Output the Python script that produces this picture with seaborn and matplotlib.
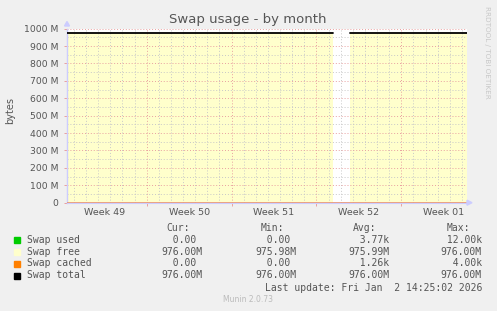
import numpy as np
import pandas as pd
import matplotlib
matplotlib.use("Agg")
import matplotlib.pyplot as plt
import seaborn as sns

# ---------------- data ----------------
# time in days since graph start (33-day "month" window)
days = [0.0, 21.95, 23.35, 33.0]
segment = ["a", "a", "b", "b"]
swap_used = [0.0, 0.0, 0.0, 0.0]
swap_free = [976.0e6, 976.0e6, 976.0e6, 976.0e6]
swap_cached = [0.0, 0.0, 0.0, 0.0]
swap_total = [976.0e6, 976.0e6, 976.0e6, 976.0e6]

week_labels = ["Week 49", "Week 50", "Week 51", "Week 52", "Week 01"]
y_ticks = [0, 100e6, 200e6, 300e6, 400e6, 500e6, 600e6, 700e6, 800e6, 900e6, 1000e6]
y_labels = ["0", "100 M", "200 M", "300 M", "400 M", "500 M", "600 M",
            "700 M", "800 M", "900 M", "1000 M"]

series_names = ["Swap used", "Swap free", "Swap cached", "Swap total"]
series_colors = ["#00cc00", "#ffffcc", "#ff8000", "#000000"]
cur_vals = ["  0.00 ", "976.00M", "  0.00 ", "976.00M"]
min_vals = ["  0.00 ", "975.98M", "  0.00 ", "976.00M"]
avg_vals = ["  3.77k", "975.99M", "  1.26k", "976.00M"]
max_vals = [" 12.00k", "976.00M", "  4.00k", "976.00M"]

df = pd.DataFrame({"day": days, "seg": segment, "used": swap_used,
                   "free": swap_free, "cached": swap_cached, "total": swap_total})

# ---------------- figure ----------------
sns.set_theme(style="white")
plt.rcParams["font.family"] = ["DejaVu Sans"]

W, H = 497, 311
fig = plt.figure(figsize=(W / 100, H / 100), dpi=100, facecolor="#f0f0f0")
ax = fig.add_axes([67 / W, (H - 202.7) / H, 400 / W, 174 / H])
ax.set_facecolor("white")
ax.set_xlim(0, 33)
ax.set_ylim(0, 1000e6)

# stacked areas per segment
for seg, g in df.groupby("seg"):
    base = np.array(g["used"])
    ax.fill_between(g["day"], 0, base, color=series_colors[0], lw=0, zorder=1)
    top = base + np.array(g["free"])
    ax.fill_between(g["day"], base, top, color=series_colors[1], lw=0, zorder=1)
    top2 = top + np.array(g["cached"])
    ax.fill_between(g["day"], top, top2, color=series_colors[2], lw=0, zorder=1)

sns.lineplot(data=df, x="day", y="total", units="seg", estimator=None,
             color="#000000", lw=1.3, ax=ax, zorder=4, legend=False)

# grid
x0 = 7 / 400 * 33
minor_x = [x0 + k for k in range(0, 33)]
major_x = [x0 + 6 + 7 * k for k in range(4)]
mid_x = [m - 3.5 for m in major_x] + [major_x[-1] + 3.5]
dot = (0, (1, 2))
glw = 0.7
for xv in minor_x:
    if all(abs(xv - m) > 1e-6 for m in major_x):
        ax.axvline(xv, color="#c8c8c8", lw=glw, ls=dot, zorder=2)
for xv in major_x:
    ax.axvline(xv, color="#e8a0a0", lw=glw, ls=dot, zorder=2)
for yv in np.arange(50e6, 1000e6, 100e6):
    ax.axhline(yv, color="#c8c8c8", lw=glw, ls=dot, zorder=2)
for yv in y_ticks[1:]:
    ax.axhline(yv, color="#e8a0a0", lw=glw, ls=dot, zorder=2)
ax.axhline(0, color="#e89070", lw=1.2, zorder=3)

# spines
for s in ["top", "right", "bottom"]:
    ax.spines[s].set_visible(False)
ax.spines["left"].set_color("#ccccff")
ax.spines["left"].set_linewidth(1)

# ticks
ax.set_yticks(y_ticks)
ax.set_yticklabels(y_labels)
ax.set_xticks(major_x)
ax.set_xticklabels([""] * len(major_x))
ax.set_xticks(mid_x, minor=True)
ax.set_xticklabels(week_labels, minor=True)
ax.tick_params(axis="y", length=2, width=0.7, color="#e8a0a0", pad=4,
               labelsize=6.7, labelcolor="#555555", left=True)
ax.tick_params(axis="x", which="major", length=2, width=0.7, color="#e8a0a0", bottom=True)
ax.tick_params(axis="x", which="minor", length=0, pad=4, labelsize=6.8,
               labelcolor="#555555")
ax.set_xlabel("")
ax.set_ylabel("")

# axis arrows
fig.patches.append(plt.Polygon([[64.5 / W, 1 - 26 / H], [69.5 / W, 1 - 26 / H], [67 / W, 1 - 21.5 / H]],
                               closed=True, transform=fig.transFigure, color="#ccccff"))
fig.patches.append(plt.Polygon([[467 / W, 1 - 200.2 / H], [467 / W, 1 - 205.2 / H], [472 / W, 1 - 202.7 / H]],
                               closed=True, transform=fig.transFigure, color="#ccccff"))
fig.lines.append(plt.Line2D([67 / W, 467 / W], [1 - 202.7 / H, 1 - 202.7 / H],
                            transform=fig.transFigure, color="#ccccff", lw=0.8, zorder=0))

# title & labels
fig.text(248 / W, 1 - 19.5 / H, "Swap usage - by month", ha="center", va="center",
         fontsize=9.5, color="#555555")
fig.text(10 / W, 1 - 110 / H, "bytes", ha="center", va="center", rotation=90,
         fontsize=7, color="#555555")
fig.text(487.5 / W, 1 - 52 / H, "RRDTOOL / TOBI OETIKER", ha="center", va="center",
         rotation=270, fontsize=5.2, color="#c8c8c8")

# legend table
mono = "DejaVu Sans Mono"
fs = 7
tc = "#555555"
row_y = [239.8, 251.7, 263.5, 275.5]
hdr_y = 227.7
for lbl, xx in [("Cur:", 166.7), ("Min:", 260.7), ("Avg:", 353.3), ("Max:", 446.7)]:
    fig.text(xx / W, 1 - hdr_y / H, lbl, family=mono, fontsize=fs, color=tc,
             ha="left", va="center")
for i, name in enumerate(series_names):
    yy = 1 - row_y[i] / H
    fig.patches.append(plt.Rectangle((14 / W, yy - 3 / H), 6 / W, 6 / H,
                                     transform=fig.transFigure, color=series_colors[i]))
    fig.text(26.7 / W, yy, name, family=mono, fontsize=fs, color=tc, ha="left", va="center")
    for vals, xx in [(cur_vals, 161), (min_vals, 255), (avg_vals, 348), (max_vals, 440.7)]:
        fig.text(xx / W, yy, vals[i], family=mono, fontsize=fs, color=tc,
                 ha="left", va="center")
fig.text(482.3 / W, 1 - 287.7 / H, "Last update: Fri Jan  2 14:25:02 2026", family=mono,
         fontsize=fs, color=tc, ha="right", va="center")
fig.text(248 / W, 1 - 300 / H, "Munin 2.0.73", ha="center", va="center",
         fontsize=5.5, color="#bbbbbb")

fig.savefig("out.png", dpi=100, facecolor=fig.get_facecolor())
